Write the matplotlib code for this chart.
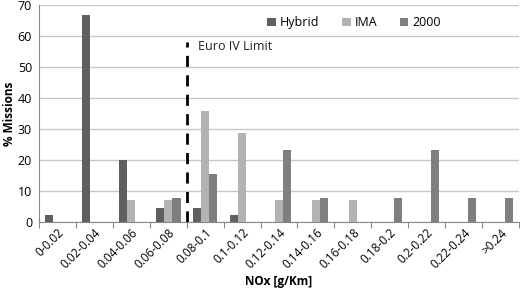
import numpy as np
import matplotlib
matplotlib.use("Agg")
import matplotlib.pyplot as plt

plt.rcParams['font.family'] = ['Open Sans', 'DejaVu Sans']

# ------------------------------------------------------------------
# Data (% of missions per NOx bin)
# ------------------------------------------------------------------
categories = ["0-0.02", "0.02-0.04", "0.04-0.06", "0.06-0.08", "0.08-0.1",
              "0.1-0.12", "0.12-0.14", "0.14-0.16", "0.16-0.18", "0.18-0.2",
              "0.2-0.22", "0.22-0.24", ">0.24"]
hybrid = [2.3, 66.7, 20.0, 4.4, 4.4, 2.2, 0, 0, 0, 0, 0, 0, 0]
ima = [0, 0, 7.1, 7.1, 35.7, 28.6, 7.1, 7.1, 7.1, 0, 0, 0, 0]
y2000 = [0, 0, 0, 7.7, 15.4, 0, 23.1, 7.7, 0, 7.7, 23.1, 7.7, 7.7]
series_names = ["Hybrid", "IMA", "2000"]
euro_iv_pos = 3.5      # boundary between 0.06-0.08 and 0.08-0.1
euro_iv_top = 58

colors = ["#5f5f5f", "#b3b3b3", "#7f7f7f"]

fig = plt.figure(figsize=(5.2, 2.98), dpi=100)
ax = fig.add_axes([0.075, 0.255, 0.923, 0.728])

x = np.arange(len(categories))
w = 1 / 4.5
for i, (vals, name, c) in enumerate(zip([hybrid, ima, y2000], series_names, colors)):
    ax.bar(x + (i - 1) * w, vals, width=w, color=c, label=name, zorder=3)

# Euro IV limit
ax.plot([euro_iv_pos, euro_iv_pos], [0, euro_iv_top], color="black",
        linestyle=(0, (4, 3)), linewidth=2, zorder=4)
ax.text(euro_iv_pos + 0.3, euro_iv_top - 1.5, "Euro IV Limit", fontsize=9,
        color="#222222", va="center", ha="left")

ax.set_xlim(-0.5, len(categories) - 0.5)
ax.set_ylim(0, 70)
ax.set_yticks(range(0, 71, 10))
ax.yaxis.grid(True, color="#c8c8c8", linewidth=1, zorder=0)

ax.set_xticks(np.arange(len(categories) + 1) - 0.5, minor=False)
ax.set_xticklabels([])
ax.set_xticks(x, minor=True)
ax.set_xticklabels(categories, minor=True, rotation=45, ha="right",
                   rotation_mode="anchor", fontsize=8.5)
ax.tick_params(axis="x", which="minor", length=0, pad=3)
ax.tick_params(axis="x", which="major", length=4, direction="out", color="#888888")
ax.tick_params(axis="y", length=0, pad=5, labelsize=9)

for s in ["top", "right"]:
    ax.spines[s].set_visible(False)
ax.spines["left"].set_color("#888888")
ax.spines["bottom"].set_color("#888888")

ax.set_ylabel("% Missions", fontsize=8.5, fontweight="bold", va="center")
ax.yaxis.set_label_coords(-0.062, 0.5)
ax.set_xlabel("NOx [g/Km]", fontsize=8.5, fontweight="bold", labelpad=3)

ax.legend(loc="upper right", bbox_to_anchor=(0.86, 1.0), ncol=3, frameon=False,
          fontsize=9, handlelength=0.7, handleheight=0.7, handletextpad=0.3,
          columnspacing=1.8)

fig.savefig("out.png", dpi=100)
